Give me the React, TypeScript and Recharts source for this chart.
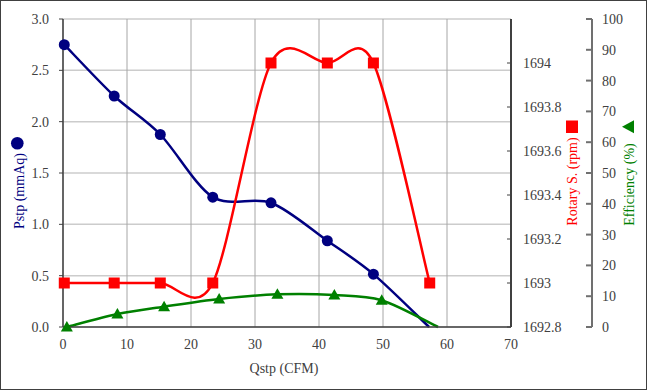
import React from 'react';
import { ComposedChart, Line, XAxis, YAxis, CartesianGrid, Label } from 'recharts';

// ---- data ----
const pstpQ = [0.2, 8.0, 15.2, 23.4, 32.5, 41.3, 48.5, 57.2];
const pstpVal = [2.75, 2.25, 1.875, 1.265, 1.21, 0.84, 0.515, 0.0];
const rpmQ = [0.2, 8.0, 15.2, 23.4, 32.5, 41.3, 48.5, 57.3];
const rpmVal = [1693, 1693, 1693, 1693, 1694, 1694, 1694, 1693];
const effQ = [0.6, 8.5, 15.8, 24.4, 33.5, 42.4, 49.8, 58.6];
const effVal = [0, 4.2, 6.6, 9.1, 10.6, 10.4, 8.7, 0];

const xTicks = [0, 10, 20, 30, 40, 50, 60, 70];
const pTicks = [0, 0.5, 1.0, 1.5, 2.0, 2.5, 3.0];
const rpmTicks = [1692.8, 1693, 1693.2, 1693.4, 1693.6, 1693.8, 1694];
const effTicks = [0, 10, 20, 30, 40, 50, 60, 70, 80, 90, 100];

const pstpData = pstpQ.map((q, i) => ({ q, v: pstpVal[i] }));
const rpmData = rpmQ.map((q, i) => ({ q, v: rpmVal[i] }));
const effData = effQ.map((q, i) => ({ q, v: effVal[i] }));

const FONT = 'Liberation Serif';
const TXT = '#404040';
const NAVY = '#000080';
const RED = '#ff0000';
const GREEN = '#008000';

// Excel-like smoothing (Catmull-Rom style bezier)
const K = 0.15;
function excelSmooth(context: any) {
  let pts: number[][] = [];
  return {
    areaStart() {},
    areaEnd() {},
    lineStart() {
      pts = [];
    },
    point(x: number, y: number) {
      pts.push([+x, +y]);
    },
    lineEnd() {
      const n = pts.length;
      if (n === 0) return;
      context.moveTo(pts[0][0], pts[0][1]);
      for (let i = 0; i < n - 1; i++) {
        const p0 = pts[i === 0 ? 0 : i - 1];
        const p1 = pts[i];
        const p2 = pts[i + 1];
        const p3 = pts[i + 2 < n ? i + 2 : n - 1];
        const c1x = p1[0] + (p2[0] - p0[0]) * K;
        const c1y = p1[1] + (p2[1] - p0[1]) * K;
        const c2x = p2[0] - (p3[0] - p1[0]) * K;
        const c2y = p2[1] - (p3[1] - p1[1]) * K;
        context.bezierCurveTo(c1x, c1y, c2x, c2y, p2[0], p2[1]);
      }
    },
  };
}

const circleDot = (hideLast: number) => (props: any) => {
  const { cx, cy, index } = props;
  if (index === hideLast || cx == null || cy == null) return <g key={`c${index}`} />;
  return <circle key={`c${index}`} cx={cx} cy={cy} r={5.5} fill={NAVY} />;
};
const squareDot = (props: any) => {
  const { cx, cy, index } = props;
  if (cx == null || cy == null) return <g key={`s${index}`} />;
  return <rect key={`s${index}`} x={cx - 5.5} y={cy - 5.5} width={11} height={11} fill={RED} />;
};
const triDot = (hideLast: number) => (props: any) => {
  const { cx, cy, index } = props;
  if (index === hideLast || cx == null || cy == null) return <g key={`t${index}`} />;
  return (
    <polygon
      key={`t${index}`}
      points={`${cx},${cy - 6} ${cx + 6},${cy + 4.5} ${cx - 6},${cy + 4.5}`}
      fill={GREEN}
    />
  );
};

const TextStyle = { fontFamily: FONT, fontSize: 14 };

const rpmTick = (props: any) => {
  const { x, y, payload } = props;
  return (
    <g>
      <line x1={x - 16} y1={y} x2={x - 12} y2={y} stroke="#404040" strokeWidth={1} />
      <text x={x} y={y} dy="0.355em" textAnchor="start" fill={TXT} style={TextStyle}>
        {String(payload.value)}
      </text>
    </g>
  );
};

const effTick = (props: any) => {
  const { x, y, payload } = props;
  return (
    <g>
      <line x1={x - 16} y1={y} x2={x - 10} y2={y} stroke="#707070" strokeWidth={2} />
      <text x={x} y={y} dy="0.355em" textAnchor="start" fill={TXT} style={TextStyle}>
        {String(payload.value)}
      </text>
    </g>
  );
};

const leftTick = (props: any) => {
  const { x, y, payload } = props;
  return (
    <g>
      <line x1={x + 10} y1={y} x2={x + 14} y2={y} stroke="#404040" strokeWidth={1} />
      <text x={x} y={y} dy="0.355em" textAnchor="end" fill={TXT} style={TextStyle}>
        {Number(payload.value).toFixed(1)}
      </text>
    </g>
  );
};

const bottomTick = (props: any) => {
  const { x, y, payload } = props;
  return (
    <text x={x} y={y} dy="0.71em" textAnchor="middle" fill={TXT} style={TextStyle}>
      {String(payload.value)}
    </text>
  );
};

const leftLabel = (props: any) => {
  const vb = props.viewBox || {};
  const cx = vb.x + 19;
  const mid = vb.y + vb.height / 2;
  return (
    <g>
      <text
        transform={`translate(${cx},${mid + 18}) rotate(-90)`}
        textAnchor="middle"
        dominantBaseline="central"
        fill={NAVY}
        style={TextStyle}
      >
        Pstp (mmAq)
      </text>
      <circle cx={vb.x + 17.3} cy={mid - 29.7} r={6.3} fill={NAVY} />
    </g>
  );
};

const rpmLabel = (props: any) => {
  const vb = props.viewBox || {};
  const cx = vb.x + 61.5;
  const mid = vb.y + vb.height / 2;
  return (
    <g>
      <text
        transform={`translate(${cx},${mid + 8.5}) rotate(-90)`}
        textAnchor="middle"
        dominantBaseline="central"
        fill={RED}
        style={TextStyle}
      >
        Rotary S. (rpm)
      </text>
      <rect x={vb.x + 55} y={mid - 52.5} width={12} height={12.5} fill={RED} />
    </g>
  );
};

const effLabel = (props: any) => {
  const vb = props.viewBox || {};
  const cx = vb.x + 37;
  const mid = vb.y + vb.height / 2;
  const ty = mid - 46.3;
  const tx = vb.x + 30;
  return (
    <g>
      <text
        transform={`translate(${cx},${mid + 11.5}) rotate(-90)`}
        textAnchor="middle"
        dominantBaseline="central"
        fill={GREEN}
        style={TextStyle}
      >
        Efficiency (%)
      </text>
      <polygon points={`${tx},${ty} ${tx + 12},${ty - 6.5} ${tx + 12},${ty + 6.5}`} fill={GREEN} />
    </g>
  );
};

const xLabel = (props: any) => {
  const vb = props.viewBox || {};
  return (
    <text
      x={vb.x + vb.width / 2 - 3}
      y={vb.y + 41}
      textAnchor="middle"
      dominantBaseline="central"
      fill={TXT}
      style={TextStyle}
    >
      Qstp (CFM)
    </text>
  );
};

export default function App() {
  return (
    <div style={{ position: 'absolute', left: 0, top: 0, width: 647, height: 390, background: '#fff', fontFamily: FONT }}>
      <ComposedChart
        width={647}
        height={390}
        margin={{ top: 19, right: 0, bottom: 13, left: 0 }}
      >
        <CartesianGrid
          xAxisId="x"
          yAxisId="p"
          vertical={false}
          stroke="#cccccc"
          strokeWidth={1.5}
        />
        <CartesianGrid
          xAxisId="x"
          yAxisId="p"
          horizontal={false}
          stroke="#a6a6a6"
          strokeWidth={1}
        />
        <XAxis
          xAxisId="x"
          dataKey="q"
          type="number"
          domain={[0, 70]}
          ticks={xTicks}
          allowDecimals
          height={50}
          tickLine={false}
          tickSize={0}
          tickMargin={12}
          axisLine={{ stroke: '#404040', strokeWidth: 1.5 }}
          tick={bottomTick}
        >
          <Label content={xLabel} />
        </XAxis>
        <YAxis
          yAxisId="p"
          orientation="left"
          width={63}
          type="number"
          domain={[0, 3]}
          ticks={pTicks}
          tickSize={0}
          tickMargin={14}
          tickLine={false}
          axisLine={{ stroke: '#404040', strokeWidth: 1.5 }}
          tick={leftTick}
        >
          <Label content={leftLabel} />
        </YAxis>
        <YAxis
          yAxisId="r1"
          orientation="right"
          width={81}
          type="number"
          domain={[1692.8, 1694.2]}
          ticks={rpmTicks}
          tickSize={0}
          tickMargin={12}
          tickLine={false}
          axisLine={{ stroke: '#404040', strokeWidth: 2 }}
          tick={rpmTick}
        >
          <Label content={rpmLabel} />
        </YAxis>
        <YAxis
          yAxisId="r2"
          orientation="right"
          width={55}
          type="number"
          domain={[0, 100]}
          ticks={effTicks}
          tickSize={0}
          tickMargin={10}
          tickLine={false}
          axisLine={{ stroke: '#707070', strokeWidth: 2 }}
          tick={effTick}
        >
          <Label content={effLabel} />
        </YAxis>
        <Line
          xAxisId="x"
          yAxisId="p"
          data={pstpData}
          dataKey="v"
          type={excelSmooth as any}
          stroke={NAVY}
          strokeWidth={2.5}
          dot={circleDot(pstpData.length - 1)}
          activeDot={false}
          isAnimationActive={false}
        />
        <Line
          xAxisId="x"
          yAxisId="r1"
          data={rpmData}
          dataKey="v"
          type={excelSmooth as any}
          stroke={RED}
          strokeWidth={2.5}
          dot={squareDot}
          activeDot={false}
          isAnimationActive={false}
        />
        <Line
          xAxisId="x"
          yAxisId="r2"
          data={effData}
          dataKey="v"
          type={excelSmooth as any}
          stroke={GREEN}
          strokeWidth={2.5}
          dot={triDot(effData.length - 1)}
          activeDot={false}
          isAnimationActive={false}
        />
      </ComposedChart>
      <div
        style={{
          position: 'absolute',
          left: 0,
          top: 0,
          width: 647,
          height: 390,
          boxSizing: 'border-box',
          border: '1px solid #404040',
          pointerEvents: 'none',
        }}
      />
    </div>
  );
}
